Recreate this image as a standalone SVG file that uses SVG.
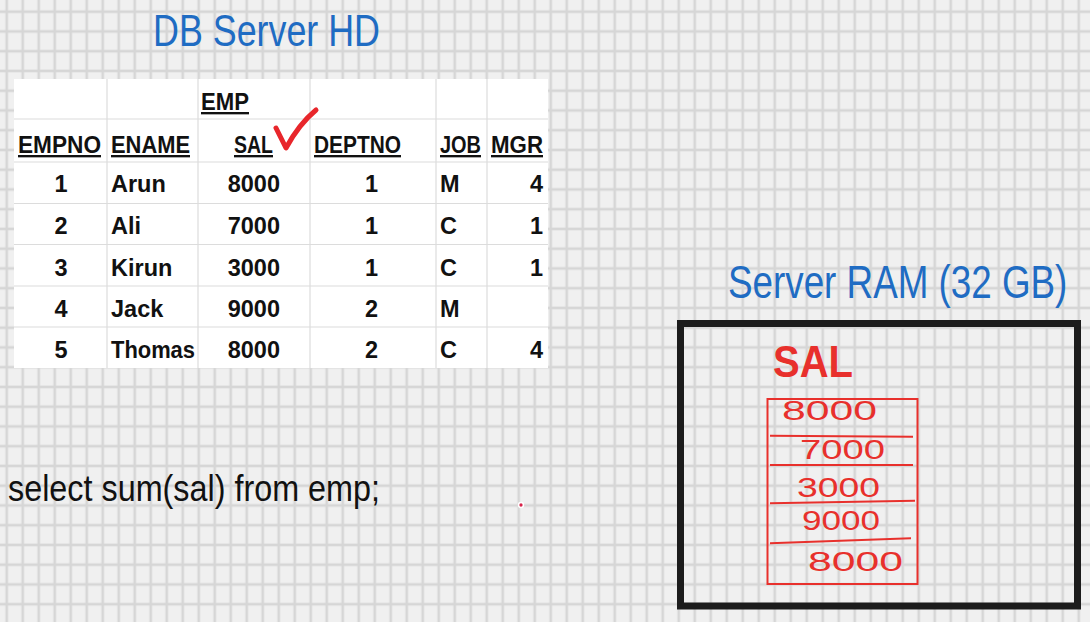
<svg xmlns="http://www.w3.org/2000/svg" width="1090" height="622" viewBox="0 0 1090 622">
  <defs>
    <pattern id="grid" patternUnits="userSpaceOnUse" x="-1.3" y="1.825" width="16" height="19.75">
      <rect width="16" height="19.75" fill="#f0f0f0"/>
      <line x1="8" y1="0" x2="8" y2="19.75" stroke="#d6d6d6" stroke-width="2.6"/>
      <line x1="0" y1="9.875" x2="16" y2="9.875" stroke="#d6d6d6" stroke-width="2.6"/>
    </pattern>
    <style>
      .cell { font-family: "Liberation Sans", Arial, sans-serif; font-weight: bold; font-size: 23.5px; fill: #111; }
      .hdr { text-decoration: underline; }
      .gl { stroke: #dcdcdc; stroke-width: 1.2; }
      .hand { font-family: "Liberation Sans", Arial, sans-serif; }
      .blue { fill: #1f6cc3; }
      .redtxt { fill: #e8302c; font-family: "Liberation Sans", Arial, sans-serif; }
      .redln { stroke: #e8302c; stroke-width: 2; fill: none; }
    </style>
  </defs>

  <rect x="0" y="0" width="1090" height="622" fill="url(#grid)"/>

  <g id="title-db">
    <text class="hand blue" x="153" y="46" font-size="44" textLength="227" lengthAdjust="spacingAndGlyphs">DB Server HD</text>
  </g>

  <g id="emp-table">
    <rect x="14" y="79" width="534" height="289" fill="#ffffff"/>
    <g class="gl">
      <line x1="107" y1="79" x2="107" y2="368"/>
      <line x1="198" y1="79" x2="198" y2="368"/>
      <line x1="310" y1="79" x2="310" y2="368"/>
      <line x1="436" y1="79" x2="436" y2="368"/>
      <line x1="487" y1="79" x2="487" y2="368"/>
      <line x1="14" y1="119" x2="548" y2="119"/>
      <line x1="14" y1="162" x2="548" y2="162"/>
      <line x1="14" y1="203.5" x2="548" y2="203.5"/>
      <line x1="14" y1="244.5" x2="548" y2="244.5"/>
      <line x1="14" y1="286" x2="548" y2="286"/>
      <line x1="14" y1="327" x2="548" y2="327"/>
    </g>
    <text class="cell hdr" x="201" y="110" textLength="48" lengthAdjust="spacingAndGlyphs">EMP</text>
    <text class="cell hdr" x="18" y="153" textLength="83" lengthAdjust="spacingAndGlyphs">EMPNO</text>
    <text class="cell hdr" x="111" y="153" textLength="79" lengthAdjust="spacingAndGlyphs">ENAME</text>
    <text class="cell hdr" x="234" y="153" textLength="39" lengthAdjust="spacingAndGlyphs">SAL</text>
    <text class="cell hdr" x="314" y="153" textLength="87" lengthAdjust="spacingAndGlyphs">DEPTNO</text>
    <text class="cell hdr" x="440" y="153" textLength="41" lengthAdjust="spacingAndGlyphs">JOB</text>
    <text class="cell hdr" x="491" y="153" textLength="52" lengthAdjust="spacingAndGlyphs">MGR</text>

    <g text-anchor="middle">
      <text class="cell" x="61" y="192">1</text>
      <text class="cell" x="61" y="234">2</text>
      <text class="cell" x="61" y="276">3</text>
      <text class="cell" x="61" y="317">4</text>
      <text class="cell" x="61" y="358">5</text>
    </g>
    <g>
      <text class="cell" x="111" y="192">Arun</text>
      <text class="cell" x="111" y="234">Ali</text>
      <text class="cell" x="111" y="276">Kirun</text>
      <text class="cell" x="111" y="317">Jack</text>
      <text class="cell" x="111" y="358" textLength="84" lengthAdjust="spacingAndGlyphs">Thomas</text>
    </g>
    <g text-anchor="end">
      <text class="cell" x="280" y="192">8000</text>
      <text class="cell" x="280" y="234">7000</text>
      <text class="cell" x="280" y="276">3000</text>
      <text class="cell" x="280" y="317">9000</text>
      <text class="cell" x="280" y="358">8000</text>
      <text class="cell" x="378" y="192">1</text>
      <text class="cell" x="378" y="234">1</text>
      <text class="cell" x="378" y="276">1</text>
      <text class="cell" x="378" y="317">2</text>
      <text class="cell" x="378" y="358">2</text>
      <text class="cell" x="543" y="192">4</text>
      <text class="cell" x="543" y="234">1</text>
      <text class="cell" x="543" y="276">1</text>
      <text class="cell" x="543" y="358">4</text>
    </g>
    <g>
      <text class="cell" x="440" y="192">M</text>
      <text class="cell" x="440" y="234">C</text>
      <text class="cell" x="440" y="276">C</text>
      <text class="cell" x="440" y="317">M</text>
      <text class="cell" x="440" y="358">C</text>
    </g>
    <path d="M276 128 Q281 138 286 148 Q299 124 316 110" fill="none" stroke="#e8262b" stroke-width="5" stroke-linecap="round" stroke-linejoin="round"/>
  </g>

  <g id="query">
    <text class="hand" x="8" y="501" font-size="37" fill="#111" textLength="372" lengthAdjust="spacingAndGlyphs">select sum(sal) from emp;</text>
  </g>

  <g id="cursor-dot">
    <circle cx="521" cy="505" r="2.4" fill="#d8234a" stroke="#ffffff" stroke-width="1.5"/>
  </g>

  <g id="title-ram">
    <text class="hand blue" transform="translate(728 298) scale(0.8 1)" x="0" y="0" font-size="46">Server RAM (32 GB)</text>
  </g>

  <g id="ram-box">
    <rect x="680.5" y="323.5" width="397" height="282.5" fill="none" stroke="#1c1c1c" stroke-width="7"/>
  </g>

  <g id="sal-column">
    <text class="redtxt" x="773" y="377" font-size="44" font-weight="bold" textLength="80" lengthAdjust="spacingAndGlyphs">SAL</text>
    <rect class="redln" x="767.5" y="399" width="150" height="185"/>
    <line class="redln" x1="770" y1="435.7" x2="913" y2="436.7"/>
    <line class="redln" x1="770" y1="465" x2="913" y2="465"/>
    <line class="redln" x1="770" y1="503.3" x2="915" y2="500.7"/>
    <line class="redln" x1="770" y1="543.3" x2="911" y2="538.3"/>
    <text class="redtxt" x="782" y="420" font-size="28" textLength="95" lengthAdjust="spacingAndGlyphs">8000</text>
    <text class="redtxt" x="800" y="459" font-size="28" textLength="85" lengthAdjust="spacingAndGlyphs">7000</text>
    <text class="redtxt" x="797" y="497" font-size="28" textLength="83" lengthAdjust="spacingAndGlyphs">3000</text>
    <text class="redtxt" x="802" y="530" font-size="28" textLength="78" lengthAdjust="spacingAndGlyphs">9000</text>
    <text class="redtxt" x="808" y="571" font-size="28" textLength="95" lengthAdjust="spacingAndGlyphs">8000</text>
  </g>
</svg>
